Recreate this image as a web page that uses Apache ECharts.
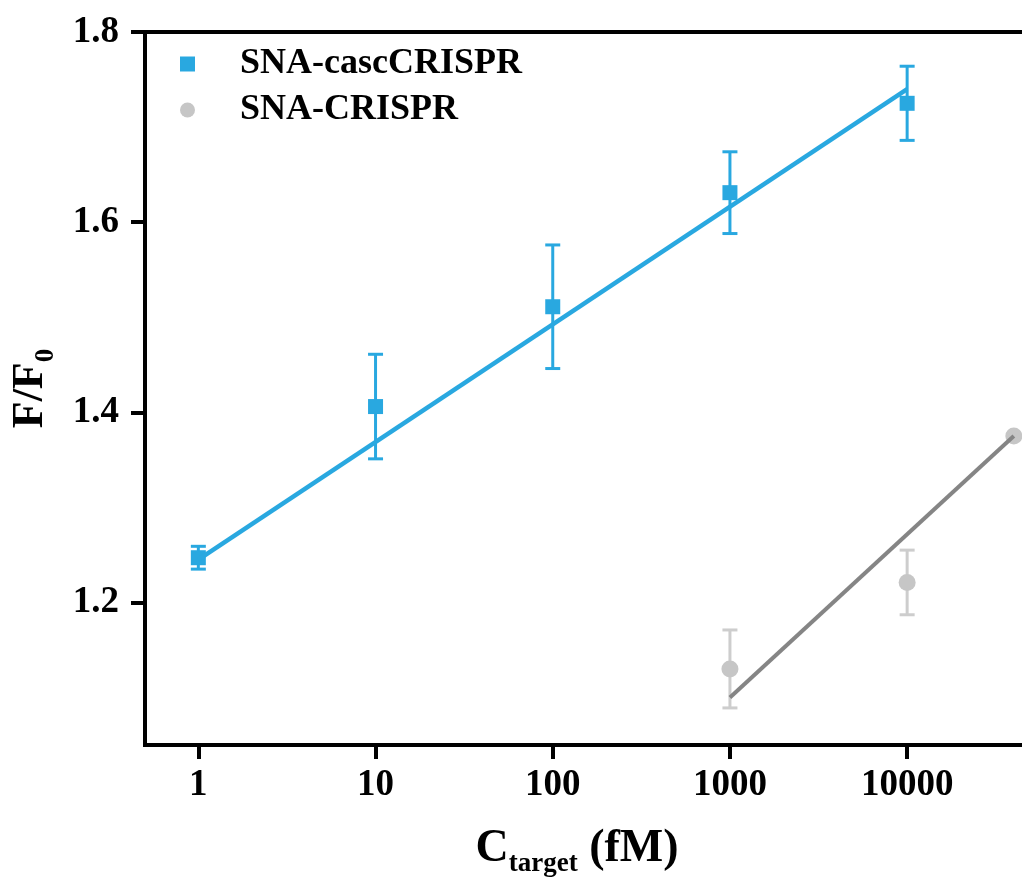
<!DOCTYPE html>
<html>
<head>
<meta charset="utf-8">
<script src="https://cdn.jsdelivr.net/npm/echarts@6/dist/echarts.min.js"></script>
<style>
html,body{margin:0;padding:0;background:#fff;}
#chart{width:1022px;height:878px;}
</style>
</head>
<body>
<div id="chart"></div>
<script>
// ---- data ----
const xTicks = [1, 10, 100, 1000, 10000];
const yTicks = [1.2, 1.4, 1.6, 1.8];

const cascConc = [1, 10, 100, 1000, 10000];
const cascMean = [1.247, 1.406, 1.511, 1.631, 1.725];
const cascErr  = [0.012, 0.055, 0.065, 0.043, 0.039];
const cascFitX = [1, 10000];
const cascFitY = [1.245, 1.740];

const crisprConc = [1000, 10000, 40000];
const crisprMean = [1.130, 1.221, 1.375];
const crisprErr  = [0.041, 0.034, 0.0];
const crisprFitX = [1000, 40000];
const crisprFitY = [1.100, 1.375];

// ---- styling ----
const BLUE = '#29a8e0';
const GRAY_PT = '#c6c6c6';
const GRAY_ERR = '#cdcdcd';
const GRAY_LINE = '#858585';
const FONT = '"Liberation Serif", "Times New Roman", serif';

function pairs(xs, ys) { return xs.map((x, i) => [x, ys[i]]); }
function errData(xs, m, e) { return xs.map((x, i) => [x, m[i] - e[i], m[i] + e[i]]); }

function errRender(color) {
  return function (params, api) {
    const x = api.value(0), lo = api.value(1), hi = api.value(2);
    if (hi - lo <= 0) return null;
    const a = api.coord([x, lo]);
    const b = api.coord([x, hi]);
    const hw = 7.5;
    const st = { stroke: color, lineWidth: 3 };
    return {
      type: 'group',
      children: [
        { type: 'line', shape: { x1: a[0], y1: a[1], x2: b[0], y2: b[1] }, style: st },
        { type: 'line', shape: { x1: a[0] - hw, y1: a[1], x2: a[0] + hw, y2: a[1] }, style: st },
        { type: 'line', shape: { x1: b[0] - hw, y1: b[1], x2: b[0] + hw, y2: b[1] }, style: st }
      ]
    };
  };
}

const chart = echarts.init(document.getElementById('chart'), null, { renderer: 'canvas' });

chart.setOption({
  backgroundColor: '#fff',
  animation: false,
  textStyle: { fontFamily: FONT },
  grid: {
    left: 145, top: 32, bottom: 133, right: -9,
    outerBoundsMode: 'none',
    containLabel: false,
    show: true, borderColor: '#000', borderWidth: 4, backgroundColor: 'transparent'
  },
  legend: {
    orient: 'vertical',
    left: 175, top: 39,
    itemWidth: 15, itemHeight: 15,
    itemGap: 6,
    data: [
      { name: 'SNA-cascCRISPR', icon: 'rect', itemStyle: { color: BLUE } },
      { name: 'SNA-CRISPR', icon: 'circle', itemStyle: { color: GRAY_PT } }
    ],
    textStyle: {
      fontFamily: FONT, fontWeight: 'bold', fontSize: 36, color: '#000',
      lineHeight: 40, padding: [0, 0, 0, 40]
    }
  },
  xAxis: {
    type: 'log',
    logBase: 10,
    min: 0.5,
    max: 50000,
    splitLine: { show: false },
    minorTick: { show: false },
    axisLine: { show: true, onZero: false, lineStyle: { color: '#000', width: 4 } },
    axisTick: { show: true, length: 14, lineStyle: { color: '#000', width: 4 }, customValues: xTicks },
    axisLabel: {
      customValues: xTicks,
      margin: 22,
      color: '#000', fontFamily: FONT, fontWeight: 'bold', fontSize: 37,
      formatter: v => String(Math.round(v))
    },
    name: '{m|C}{s|target}{m| (fM)}',
    nameLocation: 'middle',
    nameGap: 75,
    nameTextStyle: {
      padding: [0, 22, 0, 0],
      rich: {
        m: { fontFamily: FONT, fontWeight: 'bold', fontSize: 46, color: '#000', lineHeight: 52, verticalAlign: 'bottom' },
        s: { fontFamily: FONT, fontWeight: 'bold', fontSize: 27, color: '#000', verticalAlign: 'bottom', padding: [0, 0, -6, 0] }
      }
    }
  },
  yAxis: {
    type: 'value',
    min: 1.05,
    max: 1.8,
    splitLine: { show: false },
    axisLine: { show: true, onZero: false, lineStyle: { color: '#000', width: 4 } },
    axisTick: { show: true, length: 14, lineStyle: { color: '#000', width: 4 }, customValues: yTicks },
    axisLabel: {
      customValues: yTicks,
      margin: 26,
      color: '#000', fontFamily: FONT, fontWeight: 'bold', fontSize: 37,
      formatter: v => Number(v).toFixed(1)
    },
    name: '{m|F/F}{s|0}',
    nameLocation: 'middle',
    nameRotate: 90,
    nameGap: 92,
    nameTextStyle: {
      rich: {
        m: { fontFamily: FONT, fontWeight: 'bold', fontSize: 44, color: '#000', lineHeight: 50, verticalAlign: 'bottom' },
        s: { fontFamily: FONT, fontWeight: 'bold', fontSize: 27, color: '#000', verticalAlign: 'bottom', padding: [0, 0, -7, 0] }
      }
    }
  },
  series: [
    {
      name: 'cascErr', type: 'custom', renderItem: errRender(BLUE),
      encode: { x: 0, y: [1, 2] }, data: errData(cascConc, cascMean, cascErr), z: 2, silent: true
    },
    {
      name: 'SNA-cascCRISPR', type: 'scatter', symbol: 'rect', symbolSize: 15,
      itemStyle: { color: BLUE, opacity: 1 }, data: pairs(cascConc, cascMean), z: 3
    },
    {
      name: 'cascFit', type: 'line', data: pairs(cascFitX, cascFitY), showSymbol: false, symbol: 'none',
      lineStyle: { color: BLUE, width: 4.5 }, z: 4, silent: true
    },
    {
      name: 'crisprErr', type: 'custom', renderItem: errRender(GRAY_ERR),
      encode: { x: 0, y: [1, 2] }, data: errData(crisprConc, crisprMean, crisprErr), z: 2, silent: true
    },
    {
      name: 'SNA-CRISPR', type: 'scatter', symbol: 'circle', symbolSize: 17,
      itemStyle: { color: GRAY_PT, opacity: 1 }, data: pairs(crisprConc, crisprMean), z: 3
    },
    {
      name: 'crisprFit', type: 'line', data: pairs(crisprFitX, crisprFitY), showSymbol: false, symbol: 'none',
      lineStyle: { color: GRAY_LINE, width: 4 }, z: 4, silent: true
    }
  ]
});
</script>
</body>
</html>
